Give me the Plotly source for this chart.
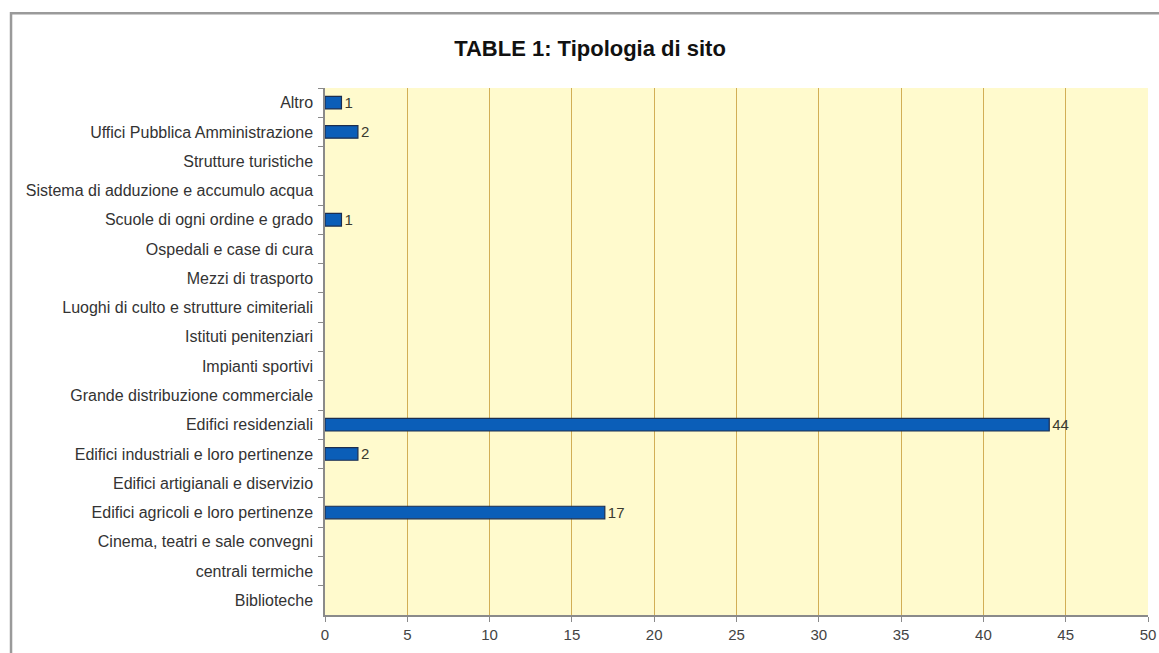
import plotly.graph_objects as go

# categories listed top to bottom as they appear in the chart
categories = [
    "Altro",
    "Uffici Pubblica Amministrazione",
    "Strutture turistiche",
    "Sistema di adduzione e accumulo acqua",
    "Scuole di ogni ordine e grado",
    "Ospedali e case di cura",
    "Mezzi di trasporto",
    "Luoghi di culto e strutture cimiteriali",
    "Istituti penitenziari",
    "Impianti sportivi",
    "Grande distribuzione commerciale",
    "Edifici residenziali",
    "Edifici industriali e loro pertinenze",
    "Edifici artigianali e diservizio",
    "Edifici agricoli e loro pertinenze",
    "Cinema, teatri e sale convegni",
    "centrali termiche",
    "Biblioteche",
]
values = [1, 2, 0, 0, 1, 0, 0, 0, 0, 0, 0, 44, 2, 0, 17, 0, 0, 0]

x_ticks = [0, 5, 10, 15, 20, 25, 30, 35, 40, 45, 50]

# empty categories get no label and no outline
labels = [str(v) if v else "" for v in values]
outline = [1.2 if v else 0 for v in values]

fig = go.Figure()

fig.add_trace(go.Bar(
    x=values,
    y=categories,
    orientation="h",
    width=0.43,
    marker=dict(color="#0B5EB8", line=dict(color="#1C2E4F", width=outline)),
    text=labels,
    textposition="outside",
    constraintext="none",
    textfont=dict(size=15, color="#3A3A30"),
    cliponaxis=False,
    hoverinfo="x+y",
))

fig.update_layout(
    title=dict(
        text="<b>TABLE 1: Tipologia di sito</b>",
        x=590 / 1159, xref="container", xanchor="center",
        y=1 - 48 / 653, yref="container", yanchor="middle",
        font=dict(size=22, color="#111111", family="Liberation Sans, Arial, sans-serif"),
    ),
    width=1159,
    height=653,
    margin=dict(l=325, r=11, t=88, b=38, autoexpand=False),
    paper_bgcolor="white",
    plot_bgcolor="#FFFACD",
    font=dict(family="Liberation Sans, Arial, sans-serif", size=16, color="#333333"),
    showlegend=False,
    # outer frame of the original image
    shapes=[dict(
        type="rect", xref="paper", yref="paper",
        x0=-0.3815, x1=1.2, y0=-0.3, y1=1.142,
        line=dict(color="#9A9A9A", width=2.5),
        fillcolor="rgba(0,0,0,0)",
        layer="below",
    )],
)

fig.update_xaxes(
    range=[0, 50],
    tickvals=x_ticks,
    showgrid=True,
    gridcolor="#D2AE55",
    gridwidth=1.3,
    zeroline=False,
    showline=True,
    linecolor="#8A8A8A",
    linewidth=1.5,
    ticks="outside",
    ticklen=5,
    tickcolor="#8A8A8A",
    tickfont=dict(size=15, color="#444444"),
    automargin=False,
)

fig.update_yaxes(
    autorange="reversed",
    type="category",
    tickson="boundaries",
    ticks="outside",
    ticklen=5,
    tickcolor="#8A8A8A",
    ticklabelstandoff=7,
    showline=True,
    linecolor="#8A8A8A",
    linewidth=1.5,
    showgrid=False,
    tickfont=dict(size=16, color="#333333"),
    automargin=False,
)

# drop the default page margin so the figure fills the window exactly
fig.write_html(
    "out.html",
    config={"displayModeBar": False},
    post_script="document.body.style.margin='0';document.body.style.overflow='hidden';",
)
